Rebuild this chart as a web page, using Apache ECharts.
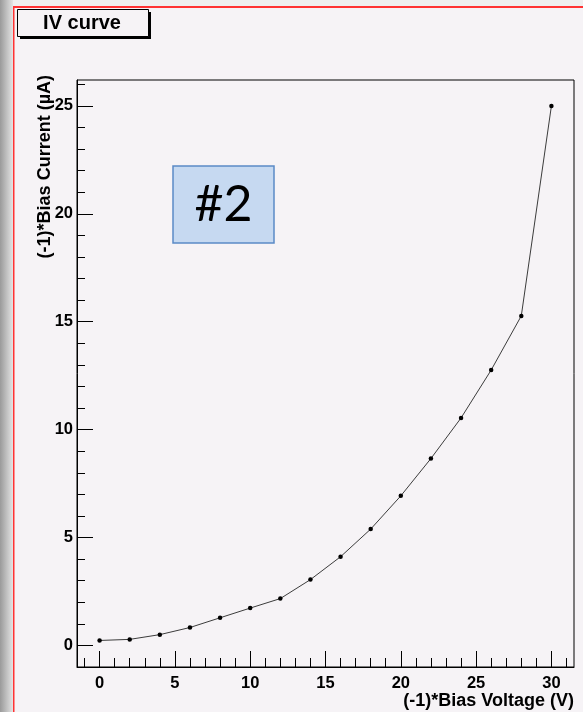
<!DOCTYPE html>
<html>
<head>
<meta charset="utf-8">
<script src="https://cdn.jsdelivr.net/npm/echarts@6/dist/echarts.min.js"></script>
<style>
html,body{margin:0;padding:0;background:#f6f3f6;}
#chart{width:583px;height:712px;}
</style>
</head>
<body>
<div id="chart"></div>
<script>
// ---- data ----
var voltages = [0, 2, 4, 6, 8, 10, 12, 14, 16, 18, 20, 22, 24, 26, 28, 30];
var currents = [0.23, 0.28, 0.50, 0.83, 1.28, 1.73, 2.17, 3.05, 4.11, 5.39, 6.93, 8.66, 10.54, 12.76, 15.27, 25.0];
var xMajorTicks = [0, 5, 10, 15, 20, 25, 30];
var xMinorTicks = [-1, 1, 2, 3, 4, 6, 7, 8, 9, 11, 12, 13, 14, 16, 17, 18, 19, 21, 22, 23, 24, 26, 27, 28, 29, 31];
var yMajorTicks = [0, 5, 10, 15, 20, 25];
var yMinorTicks = [1, 2, 3, 4, 6, 7, 8, 9, 11, 12, 13, 14, 16, 17, 18, 19, 21, 22, 23, 24, 26];
var titleText = 'IV curve';
var xTitle = '(-1)*Bias Voltage (V)';
var yTitle = '(-1)*Bias Current (\u00b5A)';
var boxLabel = '#2';

var points = voltages.map(function (v, i) { return [v, currents[i]]; });
var FONT = '"Liberation Sans", Arial, Helvetica, sans-serif';
var BG = '#f6f3f6';

var chart = echarts.init(document.getElementById('chart'), null, {renderer: 'canvas'});

function majorAxis(min, max, ticks, len, extra) {
  var a = {
    type: 'value', min: min, max: max,
    axisLine: {show: true, onZero: false, lineStyle: {color: '#000', width: 1}},
    axisTick: {show: true, inside: true, length: len, customValues: ticks, lineStyle: {color: '#000', width: 1}},
    axisLabel: {show: true, customValues: ticks, color: '#000', fontFamily: FONT, fontWeight: 'bold', fontSize: 16.5},
    splitLine: {show: false}
  };
  for (var k in extra) a[k] = extra[k];
  return a;
}
function minorAxis(min, max, ticks, len, extra) {
  var a = {
    type: 'value', min: min, max: max,
    axisLine: {show: false, onZero: false},
    axisTick: {show: true, inside: true, length: len, customValues: ticks, lineStyle: {color: '#000', width: 1}},
    axisLabel: {show: false},
    splitLine: {show: false}
  };
  for (var k in extra) a[k] = extra[k];
  return a;
}

var xMaj = majorAxis(-1.5, 31.5, xMajorTicks, 16, {position: 'bottom'});
xMaj.axisLabel.margin = 8;
var yMaj = majorAxis(-1.0, 26.2, yMajorTicks, 16, {position: 'left'});
yMaj.axisLabel.margin = 4;

chart.setOption({
  backgroundColor: BG,
  animation: false,
  grid: {left: 77, top: 80, right: 9, bottom: 45, show: true, backgroundColor: BG, borderColor: '#000', borderWidth: 1,
    containLabel: false, outerBoundsMode: 'none'},
  xAxis: [xMaj, minorAxis(-1.5, 31.5, xMinorTicks, 9, {position: 'bottom'})],
  yAxis: [yMaj, minorAxis(-1.0, 26.2, yMinorTicks, 8, {position: 'left'})],
  series: [{
    type: 'line', data: points, xAxisIndex: 0, yAxisIndex: 0,
    symbol: 'circle', symbolSize: 4.5, showSymbol: true,
    lineStyle: {color: '#3c3c3c', width: 1},
    itemStyle: {color: '#000'},
    z: 5
  }],
  graphic: [
    {type: 'rect', silent: true, shape: {x: 0, y: 0, width: 583, height: 7}, style: {fill: '#efefef'}, z: 0},
    {type: 'rect', silent: true, shape: {x: 0, y: 0, width: 13, height: 712},
      style: {fill: new echarts.graphic.LinearGradient(0, 0, 1, 0, [{offset: 0, color: '#9a9a9a'}, {offset: 1, color: '#e4e4e4'}])}, z: 0},
    {type: 'rect', silent: true, shape: {x: 13, y: 6, width: 570, height: 2}, style: {fill: '#ff3333'}, z: 1},
    {type: 'rect', silent: true, shape: {x: 13, y: 6, width: 1.5, height: 706}, style: {fill: '#ff3333'}, z: 1},
    // title box with shadow
    {type: 'rect', silent: true, shape: {x: 20, y: 12, width: 131, height: 27}, style: {fill: '#000'}, z: 10},
    {type: 'rect', silent: true, shape: {x: 17.5, y: 9.5, width: 131, height: 27}, style: {fill: BG, stroke: '#000', lineWidth: 1}, z: 11},
    {type: 'text', silent: true, x: 82, y: 23, style: {text: titleText, align: 'center', verticalAlign: 'middle', fill: '#000', font: 'bold 20px ' + FONT}, z: 12},
    // axis titles
    {type: 'text', silent: true, x: 45, y: 75, rotation: Math.PI / 2,
      style: {text: yTitle, align: 'right', verticalAlign: 'middle', fill: '#000', font: 'bold 18px ' + FONT}, z: 12},
    {type: 'text', silent: true, x: 574, y: 701,
      style: {text: xTitle, align: 'right', verticalAlign: 'middle', fill: '#000', font: 'bold 18px ' + FONT}, z: 12},
    // #2 label box
    {type: 'rect', silent: true, shape: {x: 173, y: 166, width: 101, height: 77}, style: {fill: '#c6d9f1', stroke: '#5b8ac6', lineWidth: 1.5}, z: 10},
    {type: 'text', silent: true, x: 223.5, y: 205, style: {text: boxLabel, align: 'center', verticalAlign: 'middle', fill: '#000', font: '50px Lato, "Open Sans", sans-serif'}, z: 12}
  ]
});
</script>
</body>
</html>
